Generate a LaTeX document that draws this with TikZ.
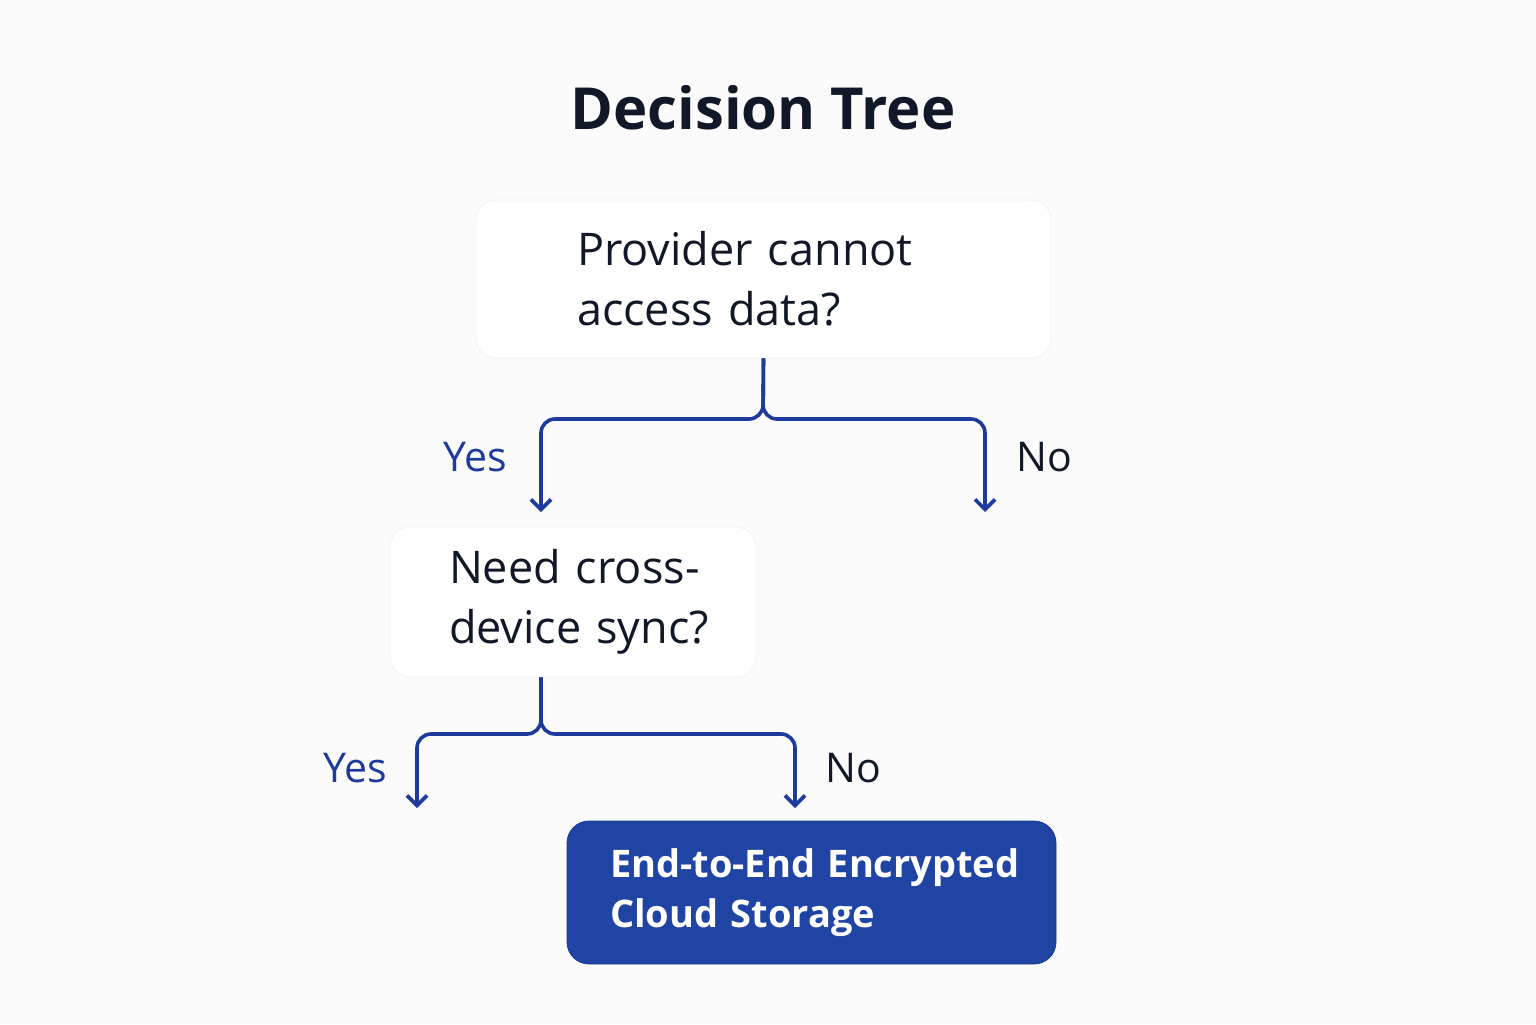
\documentclass[tikz,border=0pt]{standalone}
\usepackage{fontspec}
\setmainfont{Open Sans}
\usetikzlibrary{arrows.meta,calc}
\definecolor{bg}{HTML}{FBFBFB}
\definecolor{ink}{HTML}{111827}
\definecolor{lineblue}{HTML}{1E3A9C}
\definecolor{boxblue}{HTML}{1F44A3}
\definecolor{edgeblue}{HTML}{1A3A94}
\begin{document}
\begin{tikzpicture}[x=0.5pt,y=-0.5pt,
  qbox/.style={draw=black!5, fill=white, rounded corners=10pt, align=left,
    inner xsep=0pt, inner ysep=0pt, font=\fontsize{22.5}{30}\selectfont, text=ink},
  resbox/.style={draw=edgeblue, fill=boxblue, rounded corners=11pt, align=left,
    inner xsep=0pt, inner ysep=0pt, font=\bfseries\fontsize{19}{25}\selectfont, text=white},
  conn/.style={draw=lineblue, line width=1.8pt, rounded corners=7pt,
    -{Straight Barb[length=5pt,width=10pt]}},
  lab/.style={font=\fontsize{20.5}{24}\selectfont},
]
\fill[bg] (0,0) rectangle (1536,1024);
\useasboundingbox (0,0) rectangle (1536,1024);

\node[font=\bfseries\fontsize{29}{34}\selectfont, text=ink] (title) at (763,108) {Decision Tree};

\node[qbox, text width=287.5pt, minimum height=79pt] (q1) at (763.5,279)
  {\hspace*{50.5pt}Provider cannot\\\hspace*{50.5pt}access data?};
\node[qbox, text width=183pt, minimum height=75pt] (q2) at (573,602)
  {\hspace*{29.5pt}Need cross-\\\hspace*{29.5pt}device sync?};
\node[resbox, text width=244.5pt, minimum height=71.5pt] (res) at (811.5,892.5)
  {\hspace*{21.5pt}End-to-End Encrypted\\\hspace*{21.5pt}Cloud Storage};

\coordinate (j1) at (763,419);
\coordinate (ya) at (541,512);
\coordinate (na) at (985,512);
\coordinate (s2) at ($(q2.south)+(-32,0)$);
\coordinate (j2) at (541,734);
\coordinate (yb) at (417,808);
\coordinate (nb) at (795,808);

\draw[conn] (q1.south) -- (j1) -| (ya);
\draw[conn] (q1.south) -- (j1) -| (na);
\draw[conn] (s2) -- (j2) -| (yb);
\draw[conn] (s2) -- (j2) -| (nb);

\node[lab, text=lineblue] (yes1) at (475,457) {Yes};
\node[lab, text=ink] (no1) at (1044,457) {No};
\node[lab, text=lineblue] (yes2) at (355,768) {Yes};
\node[lab, text=ink] (no2) at (853,768) {No};
\end{tikzpicture}
\end{document}
